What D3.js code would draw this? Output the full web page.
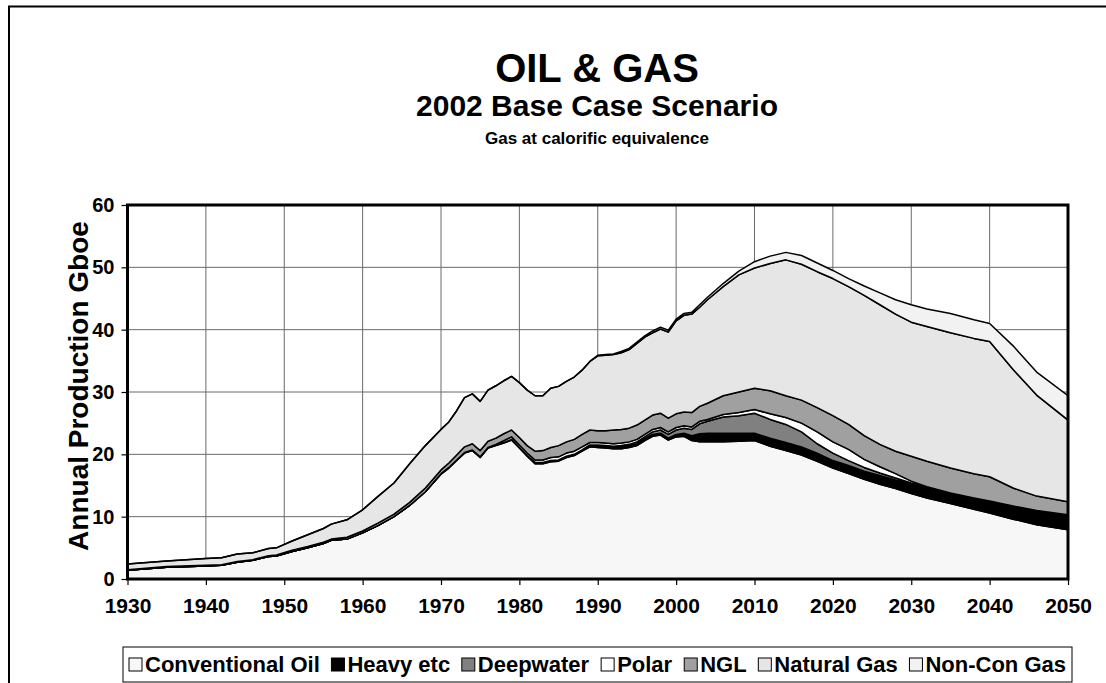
<!DOCTYPE html>
<html lang="en">
<head>
<meta charset="utf-8">
<title>Oil & Gas</title>
<script src="https://d3js.org/d3.v7.min.js"></script>
<style>
  body { margin: 0; background: #fff; }
  svg text { font-family: "Liberation Sans", Arial, sans-serif; font-weight: bold; fill: #000; }
</style>
</head>
<body>
<div id="chart"></div>
<script>
// years with readings (yearly through the wiggly part, sparser elsewhere)
const years = [1930,1935,1940,1942,1944,1946,1948,1949,1951,1953,1955,1956,1958,1960,1962,1964,1966,1968,
  1970,1971,1972,1973,1974,1975,1976,1977,1978,1979,1980,1981,1982,1983,1984,1985,1986,1987,1988,1989,
  1990,1991,1992,1993,1994,1995,1996,1997,1998,1999,2000,2001,2002,2003,2004,
  2006,2008,2010,2012,2014,2016,2018,2020,2022,2024,2026,2028,2030,2032,2035,2038,2040,2043,2046,2050];

const conventionalOil = [1.4,1.9,2.1,2.2,2.7,3.0,3.6,3.7,4.4,5.0,5.7,6.2,6.4,7.4,8.6,10.0,11.8,14.0,
  16.8,17.8,19.0,20.2,20.6,19.5,21.0,21.4,21.8,22.3,21.0,19.7,18.5,18.5,18.8,18.9,19.5,19.8,20.5,21.2,
  21.1,21.0,20.9,20.9,21.1,21.4,22.2,22.9,23.1,22.3,22.8,22.9,22.2,22.0,22.0,
  22.0,22.1,22.2,21.3,20.6,19.9,18.9,17.8,16.9,16.0,15.2,14.5,13.7,13.0,12.1,11.2,10.6,9.6,8.7,7.9];

const heavyEtc = [0,0,0,0,0,0,0,0,0,0,0,0,0,0,0,0,0,0,
  0.1,0.1,0.1,0.1,0.1,0.1,0.1,0.1,0.1,0.1,0.1,0.1,0.2,0.2,0.2,0.2,0.2,0.2,0.2,0.2,
  0.3,0.3,0.3,0.3,0.3,0.3,0.3,0.3,0.3,0.3,0.4,0.5,0.8,1.3,1.4,
  1.4,1.3,1.2,1.3,1.3,1.3,1.3,1.2,1.3,1.3,1.4,1.4,1.6,1.7,1.7,1.8,1.9,2.1,2.3,2.4];

const deepwater = [0,0,0,0,0,0,0,0,0,0,0,0,0,0,0,0,0,0,
  0,0,0,0,0,0,0,0,0,0,0,0,0,0,0,0,0,0,0,0.1,
  0.1,0.1,0.1,0.2,0.2,0.3,0.3,0.4,0.5,0.6,0.7,0.8,1.0,1.6,1.9,
  2.6,2.8,3.2,3.0,2.9,2.4,1.5,1.2,0.8,0.6,0.4,0.3,0.1,0.05,0,0,0,0,0,0];

const polar = [0,0,0,0,0,0,0,0,0,0,0,0,0,0,0,0,0,0,
  0,0,0,0,0,0,0,0.1,0.3,0.4,0.4,0.4,0.4,0.4,0.5,0.5,0.5,0.5,0.5,0.4,
  0.4,0.4,0.4,0.4,0.4,0.4,0.4,0.4,0.4,0.4,0.4,0.4,0.4,0.4,0.3,
  0.4,0.5,0.6,0.9,1.1,1.4,1.9,1.8,1.8,1.3,1.0,0.7,0.3,0.05,0,0,0,0,0,0];

const ngl = [0.1,0.1,0.1,0.1,0.1,0.1,0.15,0.15,0.2,0.2,0.2,0.2,0.3,0.3,0.4,0.4,0.5,0.6,
  0.6,0.7,0.8,0.9,1.0,1.0,1.0,1.0,1.1,1.1,1.2,1.2,1.4,1.5,1.6,1.8,1.8,1.9,2.0,2.0,
  1.9,2.0,2.2,2.2,2.2,2.3,2.3,2.3,2.3,2.2,2.2,2.2,2.3,2.4,2.6,
  3.0,3.3,3.4,3.7,3.5,3.7,3.9,4.2,4.0,3.8,3.6,3.6,4.0,4.1,4.0,3.9,3.9,2.9,2.3,2.1];

const naturalGas = [0.9,0.9,1.1,1.1,1.2,1.1,1.15,1.15,1.5,1.9,2.2,2.4,2.8,3.4,4.3,5.0,6.2,6.8,
  6.5,6.6,7.1,7.9,8.0,7.9,8.2,8.4,8.5,8.6,8.8,8.9,8.9,8.8,9.5,9.5,9.7,10.0,10.3,11.0,
  12.0,12.1,12.1,12.3,12.6,13.1,13.3,13.2,13.5,13.8,14.9,15.5,15.8,15.9,16.6,
  17.5,18.8,19.3,20.4,21.8,21.8,21.8,22.0,22.1,22.5,22.4,22.0,21.5,21.6,21.7,21.7,21.7,19.0,16.2,13.1];

const nonConGas = [0,0,0,0,0,0,0,0,0,0,0,0,0,0,0,0,0,0,
  0,0,0,0,0,0,0,0,0,0,0,0,0,0,0,0,0,0,0,0,
  0.1,0.1,0.1,0.2,0.2,0.2,0.2,0.3,0.3,0.3,0.3,0.3,0.3,0.4,0.4,
  0.5,0.6,1.0,1.2,1.2,1.4,1.4,1.3,1.3,1.5,1.9,2.3,2.8,2.8,3.1,3.0,2.9,3.8,3.7,3.9];

const seriesNames = ["Conventional Oil","Heavy etc","Deepwater","Polar","NGL","Natural Gas","Non-Con Gas"];
const seriesColors = ["#f7f7f7","#000000","#808080","#ffffff","#a0a0a0","#e6e6e6","#f2f2f2"];
const xTicks = [1930,1940,1950,1960,1970,1980,1990,2000,2010,2020,2030,2040,2050];
const yTicks = [0,10,20,30,40,50,60];

const width = 1106, height = 683;
const plot = {left: 127.5, right: 1068, top: 205, bottom: 579};

const svg = d3.select("#chart").append("svg")
    .attr("width", width).attr("height", height);

svg.append("rect").attr("width", width).attr("height", height).attr("fill", "#fff");
// outer chart frame (runs off the right and bottom)
svg.append("rect").attr("x", 9).attr("y", 6.5).attr("width", 1200).attr("height", 700)
    .attr("fill", "none").attr("stroke", "#000").attr("stroke-width", 2);

// titles
const cx = 597;
svg.append("text").attr("x", cx).attr("y", 82).attr("text-anchor", "middle")
    .style("font-size", "40px").text("OIL & GAS");
svg.append("text").attr("x", cx).attr("y", 116).attr("text-anchor", "middle")
    .style("font-size", "30px").text("2002 Base Case Scenario");
svg.append("text").attr("x", cx).attr("y", 144).attr("text-anchor", "middle")
    .style("font-size", "17px").text("Gas at calorific equivalence");

const x = d3.scaleLinear().domain([1930, 2050]).range([plot.left, plot.right]);
const y = d3.scaleLinear().domain([0, 60]).range([plot.bottom, plot.top]);

// gridlines
svg.append("g").selectAll("line").data(xTicks.slice(1, -1)).join("line")
    .attr("x1", d => x(d)).attr("x2", d => x(d)).attr("y1", plot.top).attr("y2", plot.bottom)
    .attr("stroke", "#6a6a6a").attr("stroke-width", 1);
svg.append("g").selectAll("line").data(yTicks.slice(1, -1)).join("line")
    .attr("x1", plot.left).attr("x2", plot.right).attr("y1", d => y(d)).attr("y2", d => y(d))
    .attr("stroke", "#6a6a6a").attr("stroke-width", 1);

// stacked areas
const rows = years.map((yr, i) => ({
  year: yr,
  "Conventional Oil": conventionalOil[i],
  "Heavy etc": heavyEtc[i],
  "Deepwater": deepwater[i],
  "Polar": polar[i],
  "NGL": ngl[i],
  "Natural Gas": naturalGas[i],
  "Non-Con Gas": nonConGas[i]
}));
const stacked = d3.stack().keys(seriesNames)(rows);

svg.append("clipPath").attr("id", "clip").append("rect")
    .attr("x", plot.left).attr("y", plot.top)
    .attr("width", plot.right - plot.left).attr("height", plot.bottom - plot.top);

const area = d3.area()
    .x(d => x(d.data.year))
    .y0(d => y(d[0]))
    .y1(d => y(d[1]));

svg.append("g").attr("clip-path", "url(#clip)")
  .selectAll("path").data(stacked).join("path")
    .attr("d", area)
    .attr("fill", (d, i) => seriesColors[i])
    .attr("stroke", "#000").attr("stroke-width", 1.5)
    .attr("stroke-linejoin", "round");

// plot border
svg.append("rect").attr("x", plot.left).attr("y", plot.top)
    .attr("width", plot.right - plot.left).attr("height", plot.bottom - plot.top)
    .attr("fill", "none").attr("stroke", "#000").attr("stroke-width", 3);

// axes
const xAxis = svg.append("g").attr("transform", `translate(0,${plot.bottom})`)
    .call(d3.axisBottom(x).tickValues(xTicks).tickFormat(d3.format("d")).tickSize(6).tickSizeOuter(0).tickPadding(13));
xAxis.select(".domain").remove();
xAxis.selectAll("line").attr("stroke", "#000").attr("stroke-width", 1.2);
xAxis.selectAll("text").style("font-size", "21px").attr("fill", "#000");

const yAxis = svg.append("g").attr("transform", `translate(${plot.left},0)`)
    .call(d3.axisLeft(y).tickValues(yTicks).tickSize(6).tickSizeOuter(0).tickPadding(7));
yAxis.select(".domain").remove();
yAxis.selectAll("line").attr("stroke", "#000").attr("stroke-width", 1.2);
yAxis.selectAll("text").style("font-size", "20px").attr("fill", "#000");

svg.append("text")
    .attr("transform", `translate(88,386) rotate(-90)`)
    .attr("text-anchor", "middle").style("font-size", "28px")
    .text("Annual Production Gboe");

// legend: entries spread across the box
const legend = svg.append("g");
const lgBox = {x: 123, y: 647, w: 949, h: 35};
legend.append("rect").attr("x", lgBox.x).attr("y", lgBox.y).attr("width", lgBox.w).attr("height", lgBox.h)
    .attr("fill", "#fff").attr("stroke", "#000").attr("stroke-width", 1);

const items = legend.selectAll("g.item").data(seriesNames).join("g").attr("class", "item");
items.append("rect").attr("width", 13).attr("height", 13).attr("y", -14)
    .attr("fill", (d, i) => seriesColors[i]).attr("stroke", "#000").attr("stroke-width", 1);
items.append("text").attr("x", 16).style("font-size", "22px").text(d => d);

let widths = [];
items.each(function() { widths.push(this.getBBox().width); });
const pad = 6;
const gap = (lgBox.w - 2 * pad - d3.sum(widths)) / (widths.length - 1);
let pos = lgBox.x + pad;
items.attr("transform", (d, i) => {
  const t = `translate(${pos},${lgBox.y + 25})`;
  pos += widths[i] + gap;
  return t;
});
</script>
</body>
</html>
